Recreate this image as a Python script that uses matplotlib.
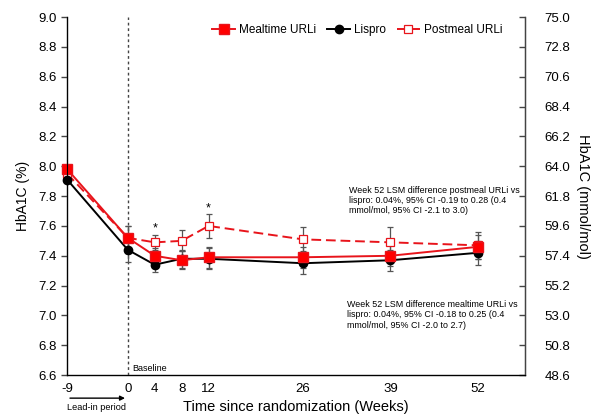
import matplotlib
matplotlib.use("Agg")
import matplotlib.pyplot as plt
import numpy as np

plt.rcParams['font.family'] = ['Liberation Sans', 'DejaVu Sans']

# weeks since randomization
weeks = [-9, 0, 4, 8, 12, 26, 39, 52]

mealtime = [7.98, 7.52, 7.40, 7.37, 7.39, 7.39, 7.40, 7.46]
mealtime_err = [0, 0.08, 0.05, 0.06, 0.07, 0.07, 0.07, 0.08]

lispro = [7.91, 7.44, 7.34, 7.38, 7.38, 7.35, 7.37, 7.42]
lispro_err = [0, 0.08, 0.05, 0.06, 0.07, 0.07, 0.07, 0.08]

postmeal = [7.95, 7.52, 7.49, 7.50, 7.60, 7.51, 7.49, 7.47]
postmeal_err = [0, 0.08, 0.05, 0.07, 0.08, 0.08, 0.10, 0.09]

left_ticks = [6.6, 6.8, 7.0, 7.2, 7.4, 7.6, 7.8, 8.0, 8.2, 8.4, 8.6, 8.8, 9.0]
right_ticks = [48.6, 50.8, 53.0, 55.2, 57.4, 59.6, 61.8, 64.0, 66.2, 68.4, 70.6, 72.8, 75.0]

star_weeks = [4, 12]

RED = '#e8141b'

fig = plt.figure(figsize=(6, 4.15), dpi=100)
ax = fig.add_axes([0.112, 0.096, 0.763, 0.863])

# error bars first (not in legend)
for vals, errs in [(postmeal, postmeal_err), (lispro, lispro_err), (mealtime, mealtime_err)]:
    ax.errorbar(weeks, vals, yerr=errs, fmt='none', ecolor='#555555', elinewidth=0.9,
                capsize=2.5, capthick=0.9, zorder=2)

l_meal, = ax.plot(weeks, mealtime, color=RED, lw=1.4, marker='s', ms=6.5,
                  mfc='#ff0000', mec=RED, label='Mealtime URLi', zorder=5, clip_on=False)
l_lis, = ax.plot(weeks, lispro, color='black', lw=1.4, marker='o', ms=6,
                 label='Lispro', zorder=4, clip_on=False)
l_post, = ax.plot(weeks, postmeal, color=RED, ls=(0, (5, 2.5)), lw=1.4, marker='s', ms=6,
                  mfc='white', mec=RED, mew=0.9, label='Postmeal URLi', zorder=3, clip_on=False)

ax.axvline(0, color='#444444', ls=(0, (2, 2)), lw=1.0, zorder=1)

ax.set_xlim(-9, 59)
ax.set_ylim(6.6, 9.0)
ax.set_xticks(weeks)
ax.set_xticklabels([str(w) for w in weeks], fontsize=9.5)
ax.tick_params(axis='x', length=0, pad=6)
ax.set_yticks(left_ticks)
ax.set_yticklabels([f"{v:.1f}" for v in left_ticks], fontsize=9.5)
ax.tick_params(axis='y', direction='out', length=4, width=1, color='#444444')
ax.spines['top'].set_visible(False)
for s in ['left', 'bottom', 'right']:
    ax.spines[s].set_color('#444444')
    ax.spines[s].set_linewidth(1.0)
ax.set_ylabel('HbA1C (%)', fontsize=10, labelpad=6)
ax.set_xlabel('Time since randomization (Weeks)', fontsize=10.5, labelpad=3)

ax2 = ax.twinx()
ax2.set_ylim(48.6, 75.0)
ax2.set_yticks(right_ticks)
ax2.set_yticklabels([f"{v:.1f}" for v in right_ticks], fontsize=9.5)
ax2.tick_params(axis='y', direction='in', length=4, width=1, color='#444444', pad=14)
ax2.spines['top'].set_visible(False)
ax2.spines['right'].set_color('#444444')
ax2.set_ylabel('HbA1C (mmol/mol)', fontsize=10.5, rotation=270, labelpad=14)

for w in star_weeks:
    i = weeks.index(w)
    ax.text(w, postmeal[i] + postmeal_err[i] + 0.04, '*', ha='center', va='center', fontsize=9)

ax.text(0.6, 6.615, 'Baseline', fontsize=6.5, ha='left', va='bottom')

ax.annotate('', xy=(0, 6.446), xytext=(-9, 6.446), xycoords='data',
            arrowprops=dict(arrowstyle='-|>', color='black', lw=1.0, mutation_scale=7),
            annotation_clip=False)
ax.text(-9, 6.38, 'Lead-in period', fontsize=6.6, ha='left', va='center', clip_on=False)

ax.text(32.8, 7.87, 'Week 52 LSM difference postmeal URLi vs\nlispro: 0.04%, 95% CI -0.19 to 0.28 (0.4\nmmol/mol, 95% CI -2.1 to 3.0)',
        fontsize=6.4, ha='left', va='top', linespacing=1.2)
ax.text(32.6, 7.105, 'Week 52 LSM difference mealtime URLi vs\nlispro: 0.04%, 95% CI -0.18 to 0.25 (0.4\nmmol/mol, 95% CI -2.0 to 2.7)',
        fontsize=6.4, ha='left', va='top', linespacing=1.2)

ax.legend([l_meal, l_lis, l_post], ['Mealtime URLi', 'Lispro', 'Postmeal URLi'], loc='upper center',
          bbox_to_anchor=(0.633, 1.01), ncol=3, frameon=False, fontsize=8.5,
          handlelength=2.0, handletextpad=0.3, columnspacing=0.9)

fig.savefig('out.png', dpi=100)
